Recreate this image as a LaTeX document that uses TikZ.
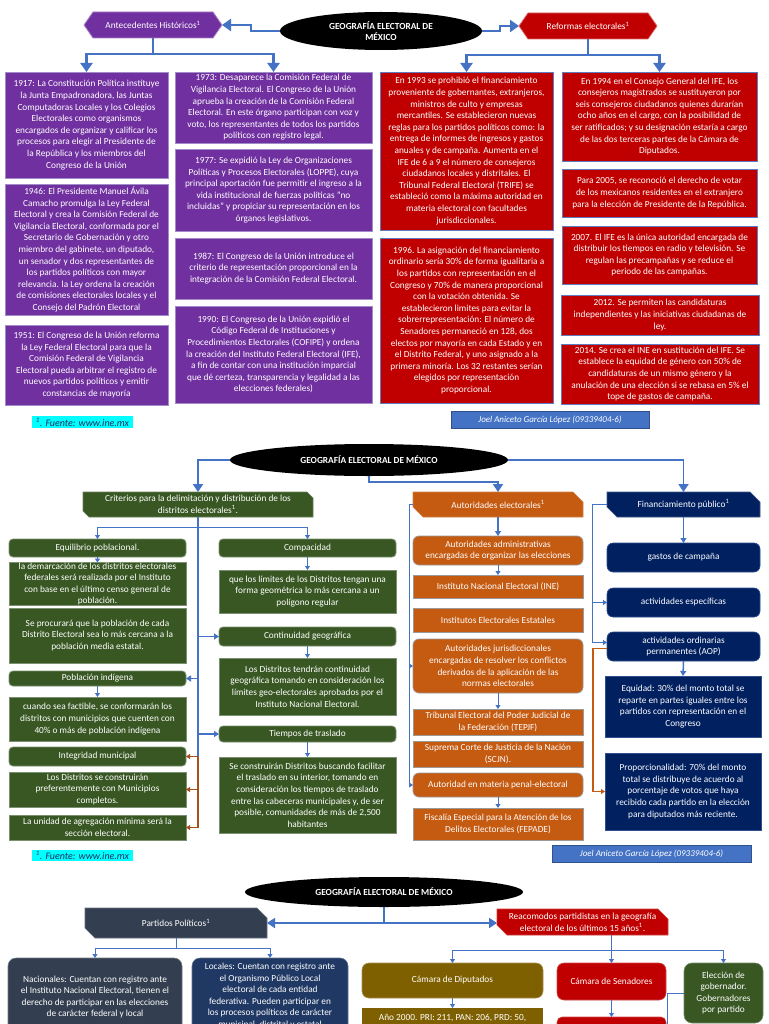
\documentclass[tikz,border=0pt]{standalone}
\usepackage{fontspec}
\setmainfont{Carlito}
\usetikzlibrary{arrows.meta,shapes.geometric}
\definecolor{cpur}{HTML}{7030A0}
\definecolor{cpurb}{HTML}{A08CC8}
\definecolor{cred}{HTML}{C00000}
\definecolor{credb}{HTML}{5F7DBF}
\definecolor{cgrn}{HTML}{385723}
\definecolor{cgrnb}{HTML}{7A9070}
\definecolor{corg}{HTML}{C55A11}
\definecolor{corgb}{HTML}{9A9A9A}
\definecolor{cnav}{HTML}{002060}
\definecolor{cnavb}{HTML}{2F4F8F}
\definecolor{cslate}{HTML}{333F50}
\definecolor{cnav2}{HTML}{203864}
\definecolor{colive}{HTML}{7F6000}
\definecolor{cblu}{HTML}{4472C4}
\definecolor{cbluD}{HTML}{2F528F}
\definecolor{cbrn}{HTML}{A5501C}
\definecolor{cfu}{HTML}{00FFFF}
\definecolor{cfut}{HTML}{1F2F60}
\newcommand\fs{\fontsize{9.3}{11.6}\selectfont}
\newcommand\bx[7]{%
\pgfmathsetmacro\mbw{#5-#3}\pgfmathsetmacro\mbh{#6-#4}%
\pgfmathsetmacro\mcx{(#3+#5)/2}\pgfmathsetmacro\mcy{(#4+#6)/2}%
\node[#2, minimum width=\mbw pt, minimum height=\mbh pt] (#1) at (\mcx,\mcy) {#7};}
\newcommand\snip[8]{%
\filldraw[fill=#2, draw=#2!75!white, line width=0.6pt] (#3,#4) -- ({#5-#7},#4) -- (#5,{#4+#7}) -- (#5,#6) -- ({#3+#7},#6) -- (#3,{#6-#7}) -- cycle;
\bx{#1}{}{#3}{#4}{#5}{#6}{#8}}
\newcommand\hexa[7]{%
\pgfmathsetmacro\hcy{(#4+#6)/2}%
\filldraw[fill=#2, draw=#2!60!white, line width=0.8pt] (#3,\hcy) -- ({#3+9},#4) -- ({#5-9},#4) -- (#5,\hcy) -- ({#5-9},#6) -- ({#3+9},#6) -- cycle;
\bx{#1}{}{#3}{#4}{#5}{#6}{#7}}
\tikzset{
 every node/.style={inner xsep=2pt, inner ysep=0pt, outer sep=0pt, align=center, text=white, font=\fs},
 pbox/.style={fill=cpur, draw=cpurb, line width=0.8pt},
 rbox/.style={fill=cred, draw=credb, line width=0.8pt},
 gbox/.style={fill=cgrn, draw=cgrnb, line width=0.8pt},
 grr/.style={gbox, rounded corners=4pt},
 obox/.style={fill=corg, draw=corgb, line width=0.8pt},
 orr/.style={obox, rounded corners=6pt},
 nbox/.style={fill=cnav, draw=cnavb, line width=0.6pt},
 nrr/.style={nbox, rounded corners=6pt},
 fu/.style={fill=cfu, text=cfut, font=\fontsize{10}{12}\selectfont\itshape},
 joel/.style={fill=cblu, draw=cbluD, line width=0.8pt, font=\fontsize{9}{11}\selectfont\itshape},
 ell/.style={ellipse, fill=black, inner sep=0pt, font=\bfseries\fontsize{9.3}{11}\selectfont},
 big/.style={draw=cblu, line width=2.6pt},
 bigar/.style={big, -{Triangle[width=12pt,length=9pt]}},
 mid/.style={draw=cblu, line width=1.8pt},
 midar/.style={mid, -{Triangle[width=10pt,length=8pt]}},
 medar/.style={draw=cblu, line width=1.5pt, -{Triangle[width=6pt,length=5pt]}},
 sml/.style={draw=cblu, line width=1pt},
 smlar/.style={sml, -{Triangle[width=5pt,length=4pt]}},
 brn/.style={draw=cbrn, line width=1.4pt},
 brnar/.style={brn, -{Triangle[width=5pt,length=4pt]}},
 oar/.style={draw=corg, line width=1.4pt, -{Triangle[width=5pt,length=4pt]}}
}
\begin{document}
\begin{tikzpicture}[x=1pt,y=-1pt]
\useasboundingbox (0,0) rectangle (768,1024);
\fill[white] (0,0) rectangle (768,1024);
% ================= SECTION 1 =================
\node[ell, minimum width=202pt, minimum height=38pt] (ell1) at (381,31) {GEOGRAFÍA ELECTORAL DE\\MÉXICO};
\hexa{ante}{cpur}{84}{12}{222}{38}{Antecedentes Históricos\textsuperscript{1}}
\hexa{ref}{cred}{519}{13}{657}{39}{Reformas electorales\textsuperscript{1}}
\bx{b1917}{pbox}{5}{72}{168}{178}{1917: La Constitución Política instituye\\la Junta Empadronadora, las Juntas\\Computadoras Locales y los Colegios\\Electorales como organismos\\encargados de organizar y calificar los\\procesos para elegir al Presidente de\\la República y los miembros del\\Congreso de la Unión}
\bx{b1946}{pbox}{5}{184}{168}{315}{1946: El Presidente Manuel Ávila\\Camacho promulga la Ley Federal\\Electoral y crea la Comisión Federal de\\Vigilancia Electoral, conformada por el\\Secretario de Gobernación y otro\\miembro del gabinete, un diputado,\\un senador y dos representantes de\\los partidos políticos con mayor\\relevancia. la Ley ordena la creación\\de comisiones electorales locales y el\\Consejo del Padrón Electoral}
\bx{b1951}{pbox}{5}{325}{168}{405}{1951: El Congreso de la Unión reforma\\la Ley Federal Electoral para que la\\Comisión Federal de Vigilancia\\Electoral pueda arbitrar el registro de\\nuevos partidos políticos y emitir\\constancias de mayoría}
\bx{b1973}{pbox}{175}{72}{372}{143}{1973: Desaparece la Comisión Federal de\\Vigilancia Electoral. El Congreso de la Unión\\aprueba la creación de la Comisión Federal\\Electoral. En este órgano participan con voz y\\voto, los representantes de todos los partidos\\políticos con registro legal.}
\bx{b1977}{pbox}{175}{149}{372}{231}{1977: Se expidió la Ley de Organizaciones\\Políticas y Procesos Electorales (LOPPE), cuya\\principal aportación fue permitir el ingreso a la\\vida institucional de fuerzas políticas "no\\incluidas" y propiciar su representación en los\\órganos legislativos.}
\bx{b1987}{pbox}{175}{238}{372}{299}{1987: El Congreso de la Unión introduce el\\criterio de representación proporcional en la\\integración de la Comisión Federal Electoral.}
\bx{b1990}{pbox}{175}{306}{372}{403}{1990: El Congreso de la Unión expidió el\\Código Federal de Instituciones y\\Procedimientos Electorales (COFIPE) y ordena\\la creación del Instituto Federal Electoral (IFE),\\a fin de contar con una institución imparcial\\que dé certeza, transparencia y legalidad a las\\elecciones federales)}
\bx{b1993}{rbox}{380}{72}{553}{230}{En 1993 se prohibió el financiamiento\\proveniente de gobernantes, extranjeros,\\ministros de culto y empresas\\mercantiles. Se establecieron nuevas\\reglas para los partidos políticos como: la\\entrega de informes de ingresos y gastos\\anuales y de campaña. Aumenta en el\\IFE de 6 a 9 el número de consejeros\\ciudadanos locales y distritales. El\\Tribunal Federal Electoral (TRIFE) se\\estableció como la máxima autoridad en\\materia electoral con facultades\\jurisdiccionales.}
\bx{b1996}{rbox}{380}{238}{553}{403}{1996. La asignación del financiamiento\\ordinario sería 30\% de forma igualitaria a\\los partidos con representación en el\\Congreso y 70\% de manera proporcional\\con la votación obtenida. Se\\establecieron limites para evitar la\\sobrerrepresentación: El número de\\Senadores permaneció en 128, dos\\electos por mayoría en cada Estado y en\\el Distrito Federal, y uno asignado a la\\primera minoría. Los 32 restantes serían\\elegidos por representación\\proporcional.}
\bx{b1994}{rbox}{562}{72}{757}{161}{En 1994 en el Consejo General del IFE, los\\consejeros magistrados se sustituyeron por\\seis consejeros ciudadanos quienes durarían\\ocho años en el cargo, con la posibilidad de\\ser ratificados; y su designación estaría a cargo\\de las dos terceras partes de la Cámara de\\Diputados.}
\bx{b2005}{rbox}{562}{169}{757}{217}{Para 2005, se reconoció el derecho de votar\\de los mexicanos residentes en el extranjero\\para la elección de Presidente de la República.}
\bx{b2007}{rbox}{562}{226}{757}{284}{2007. El IFE es la única autoridad encargada de\\distribuir los tiempos en radio y televisión. Se\\regulan las precampañas y se reduce el\\periodo de las campañas.}
\bx{b2012}{rbox}{561}{295}{759}{335}{2012. Se permiten las candidaturas\\independientes y las iniciativas ciudadanas de\\ley.}
\bx{b2014}{rbox}{561}{344}{759}{404}{2014. Se crea el INE en sustitución del IFE. Se\\establece la equidad de género con 50\% de\\candidaturas de un mismo género y la\\anulación de una elección si se rebasa en 5\% el\\tope de gastos de campaña.}
\bx{fu1}{fu}{32}{416}{133}{428}{\textsuperscript{1}. Fuente: www.ine.mx}
\bx{joel1}{joel}{451}{411}{649}{428}{Joel Aniceto García López (09339404-6)}
\draw[bigar] (ell1.west) -- ++(-29,0) |- (ante.east);
\draw[bigar] (ell1.east) -- ++(18,0) |- (ref.west);
\draw[big] (ante.south) -- ++(0,16) coordinate (j1);
\draw[bigar] (j1) -| (b1917.north);
\draw[bigar] (j1) -| (b1973.north);
\draw[big] (ref.south) -- ++(0,16) coordinate (j2);
\draw[bigar] (j2) -| (b1993.north);
\draw[bigar] (j2) -| (b1994.north);
% ================= SECTION 2 =================
\node[ell, minimum width=278pt, minimum height=32pt] (ell2) at (369,460) {GEOGRAFÍA ELECTORAL DE MÉXICO};
\snip{crit}{cgrn}{83}{492}{313}{517}{6}{Criterios para la delimitación y distribución de los\\distritos electorales\textsuperscript{1}.}
\bx{eq}{grr}{9}{539}{186}{557}{Equilibrio poblacional.}
\bx{eqb}{gbox}{9}{563}{186}{605}{la demarcación de los distritos electorales\\federales será realizada por el Instituto\\con base en el último censo general de\\población.}
\bx{proc}{gbox}{9}{608}{186}{663}{Se procurará que la población de cada\\Distrito Electoral sea lo más cercana a la\\población media estatal.}
\bx{pind}{grr}{9}{671}{186}{686}{Población indígena}
\bx{pindb}{gbox}{9}{697}{186}{741}{cuando sea factible, se conformarán los\\distritos con municipios que cuenten con\\40\% o más de población indígena}
\bx{integ}{grr}{9}{747}{186}{766}{Integridad municipal}
\bx{lsd}{gbox}{9}{772}{186}{807}{Los Distritos se construirán\\preferentemente con Municipios\\completos.}
\bx{uni}{gbox}{9}{815}{186}{840}{La unidad de agregación mínima será la\\sección electoral.}
\bx{fu2}{fu}{32}{850}{133}{861}{\textsuperscript{1}. Fuente: www.ine.mx}
\bx{comp}{grr}{219}{539}{396}{557}{Compacidad}
\bx{compb}{gbox}{219}{570}{396}{613}{que los límites de los Distritos tengan una\\forma geométrica lo más cercana a un\\polígono regular}
\bx{cont}{grr}{219}{627}{396}{646}{Continuidad geográfica}
\bx{contb}{gbox}{219}{658}{396}{715}{Los Distritos tendrán continuidad\\geográfica tomando en consideración los\\límites geo-electorales aprobados por el\\Instituto Nacional Electoral.}
\bx{tiem}{grr}{219}{726}{396}{742}{Tiempos de traslado}
\bx{tiemb}{gbox}{219}{757}{396}{833}{Se construirán Distritos buscando facilitar\\el traslado en su interior, tomando en\\consideración los tiempos de traslado\\entre las cabeceras municipales y, de ser\\posible, comunidades de más de 2,500\\habitantes}
\snip{aut}{corg}{413}{492}{583}{517}{10}{Autoridades electorales\textsuperscript{1}}
\bx{adm}{orr}{413}{536}{583}{565}{Autoridades administrativas\\encargadas de organizar las elecciones}
\bx{ine}{obox}{413}{575}{583}{598}{Instituto Nacional Electoral (INE)}
\bx{iee}{obox}{413}{608}{583}{632}{Institutos Electorales Estatales}
\bx{jur}{orr}{413}{639}{583}{693}{Autoridades jurisdiccionales\\encargadas de resolver los conflictos\\derivados de la aplicación de las\\normas electorales}
\bx{tep}{obox}{413}{709}{583}{735}{Tribunal Electoral del Poder Judicial de\\la Federación (TEPJF)}
\bx{scjn}{obox}{413}{741}{583}{767}{Suprema Corte de Justicia de la Nación\\(SCJN).}
\bx{pen}{orr}{413}{773}{583}{797}{Autoridad en materia penal-electoral}
\bx{fep}{obox}{413}{808}{583}{840}{Fiscalía Especial para la Atención de los\\Delitos Electorales (FEPADE)}
\snip{fin}{cnav}{607}{492}{760}{517}{10}{Financiamiento público\textsuperscript{1}}
\bx{gas}{nrr}{607}{543}{760}{572}{gastos de campaña}
\bx{esp}{nrr}{607}{588}{760}{617}{actividades específicas}
\bx{aop}{nrr}{607}{632}{760}{661}{actividades ordinarias\\permanentes (AOP)}
\bx{equ}{nbox}{605}{676}{761}{737}{Equidad: 30\% del monto total se\\reparte en partes iguales entre los\\partidos con representación en el\\Congreso}
\bx{prop}{nbox}{605}{753}{761}{830}{Proporcionalidad: 70\% del monto\\total se distribuye de acuerdo al\\porcentaje de votos que haya\\recibido cada partido en la elección\\para diputados más reciente.}
\bx{joel2}{joel}{552}{845}{751}{862}{Joel Aniceto García López (09339404-6)}
\draw[midar] (ell2.west) -| (crit.north);
\draw[midar] (ell2.south) -- ++(0,6) -| (aut.north);
\draw[midar] (ell2.east) -| (fin.north);
\draw[mid] (crit.south) -- (crit.south |- integ.east) coordinate (tr);
\draw[sml] (crit.south) -- ++(0,10) coordinate (j3);
\draw[smlar] (j3) -| (eq.north);
\draw[smlar] (j3) -| (comp.north);
\draw[medar] (crit.south |- pind.east) -- (pind.east);
\draw[medar] (crit.south |- cont.west) -- (cont.west);
\draw[medar] (crit.south |- tiem.west) -- (tiem.west);
\draw[brnar] (tr) -- (integ.east);
\draw[brn] (tr) -- (tr |- uni.east);
\draw[brnar] (tr |- lsd.east) -- (lsd.east);
\draw[brnar] (tr |- uni.east) -- (uni.east);
\draw[smlar] (eq.south) -- (eqb.north);
\draw[smlar] (pind.south) -- (pindb.north);
\draw[smlar] (comp.south) -- (compb.north);
\draw[smlar] (cont.south) -- (contb.north);
\draw[smlar] (tiem.south) -- (tiemb.north);
\draw[medar] (aut.south) -- (adm.north);
\draw[smlar] (adm.south) -- (ine.north);
\draw[smlar] (jur.south) -- (tep.north);
\draw[smlar] (pen.south) -- (fep.north);
\draw[sml] (aut.west) -- ++(-4,0) coordinate (ol);
\draw[smlar] (ol) |- (jur.west);
\draw[smlar] (ol) |- (pen.west);
\draw[medar] (fin.south) -- (gas.north);
\draw[sml] (fin.west) -- ++(-15,0) coordinate (nl);
\draw[smlar] (nl) |- (esp.west);
\draw[smlar] (nl) |- ([yshift=4pt]aop.west);
\draw[medar] (aop.south) -- (equ.north);
\draw[oar] ([yshift=-2pt]aop.west) -- ++(-14,0) |- (prop.west);
% ================= SECTION 3 =================
\node[ell, minimum width=278pt, minimum height=30pt] (ell3) at (384,892) {GEOGRAFÍA ELECTORAL DE MÉXICO};
\snip{par}{cslate}{85}{908}{267}{938}{10}{Partidos Políticos\textsuperscript{1}}
\bx{nac}{fill=cslate, draw=cslate!70!white, line width=0.6pt, rounded corners=8pt}{8}{958}{182}{1036}{Nacionales: Cuentan con registro ante\\el Instituto Nacional Electoral, tienen el\\derecho de participar en las elecciones\\de carácter federal y local}
\bx{loc}{fill=cnav2, draw=cnav2!70!white, line width=0.6pt, rounded corners=8pt}{192}{958}{348}{1034}{Locales: Cuentan con registro ante\\el Organismo Público Local\\electoral de cada entidad\\federativa. Pueden participar en\\los procesos políticos de carácter\\municipal, distrital y estatal}
\snip{reac}{cred}{497}{909}{668}{935}{10}{Reacomodos partidistas en la geografía\\electoral de los últimos 15 años\textsuperscript{1}.}
\bx{dip}{fill=colive, draw=colive!70!white, line width=0.6pt, rounded corners=7pt}{362}{963}{543}{998}{Cámara de Diputados}
\fill[colive] (362,1008) rectangle (543,1040);
\node[anchor=north, minimum width=181pt, minimum height=20pt] (a2000) at (452.5,1008) {Año 2000. PRI: 211, PAN: 206, PRD: 50,};
\bx{sen}{fill=cred, draw=cred!70!white, line width=0.6pt, rounded corners=7pt}{557}{963}{666}{1000}{Cámara de Senadores}
\bx{senb}{fill=cred, draw=cred!70!white, line width=0.6pt, rounded corners=5pt}{557}{1017}{666}{1045}{}
\bx{gob}{fill=cgrn, draw=cgrn!70!white, line width=0.6pt, rounded corners=8pt}{684}{963}{763}{1023}{Elección de\\gobernador.\\Gobernadores\\por partido}
\draw[mid] (ell3.south) -- ++(0,16) coordinate (j4);
\draw[midar] (j4) -- (par.east);
\draw[midar] (j4) -- (j4 -| reac.west);
\draw[sml] (par.south) -- ++(0,10) coordinate (j5);
\draw[smlar] (j5) -| (nac.north);
\draw[smlar] (j5) -| (loc.north);
\draw[sml] (reac.south -| sen.north) -- ++(0,15) coordinate (j6);
\draw[smlar] (j6) -| (dip.north);
\draw[smlar] (j6) -- (sen.north);
\draw[smlar] (j6) -| (gob.north);
\draw[smlar] (dip.south) -- (a2000.north);
\draw[smlar] (sen.south) -- (senb.north);
\draw[sml] (gob.west) -- ++(-17,0) -- ++(0,40);
\end{tikzpicture}
\end{document}
